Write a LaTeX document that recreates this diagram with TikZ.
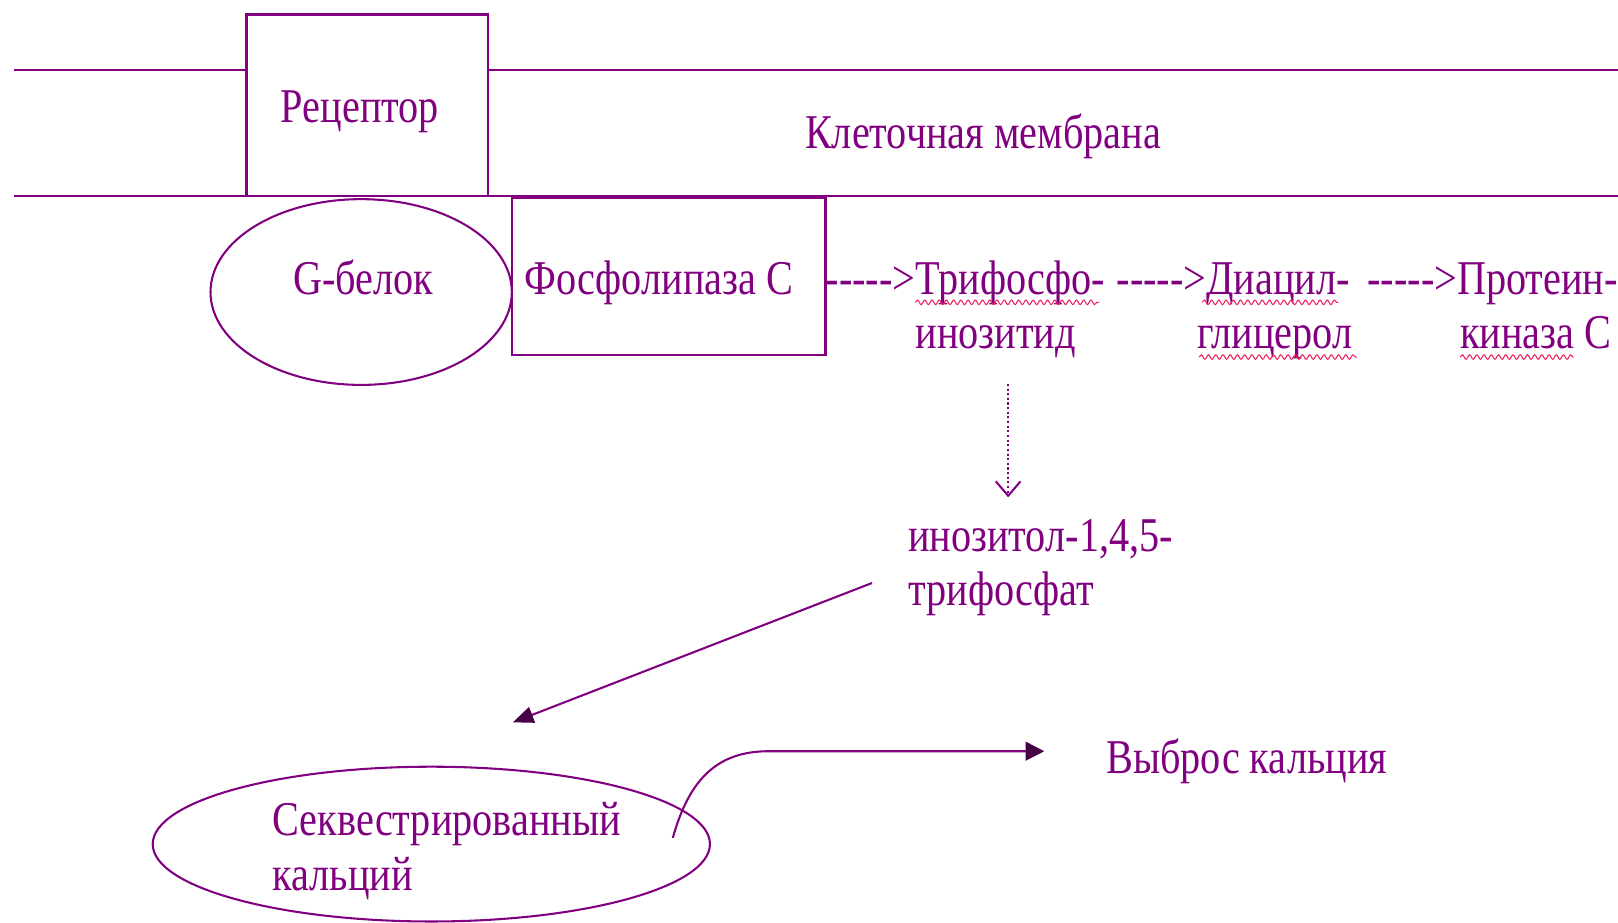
\documentclass[tikz,border=0pt]{standalone}
\usepackage{fontspec}
\newfontfamily\mf{Liberation Serif}[FakeStretch=0.83]
\usetikzlibrary{arrows.meta,shapes.geometric,decorations.pathmorphing}
\definecolor{pur}{RGB}{128,0,128}
\definecolor{darkpur}{RGB}{70,0,70}
\definecolor{spell}{RGB}{240,30,90}
\tikzset{
  lbl/.style={anchor=base west,inner sep=0pt,text=pur,font=\mf\fontsize{47}{52}\selectfont},
  boxshape/.style={draw=pur,line width=2.2pt,rectangle,inner sep=0pt},
  ovalshape/.style={draw=pur,line width=2pt,ellipse,inner sep=0pt},
  memline/.style={draw=pur,line width=2.2pt},
  conn/.style={draw=pur,line width=2pt},
  squig/.style={draw=spell,line width=1pt,decorate,decoration={snake,amplitude=2.2pt,segment length=7pt}}
}
\begin{document}
\begin{tikzpicture}[x=1pt,y=-1pt]
\useasboundingbox (0,0) rectangle (1568,894);
% membrane
\node[boxshape,minimum width=234pt,minimum height=176pt] (rec) at (356,102) {};
\node[lbl] (rectxt) at (272,119) {Рецептор};
\coordinate (mtl) at (14,68);
\coordinate (mtr) at (1568,68);
\coordinate (mbl) at (14,190);
\coordinate (mbr) at (1568,190);
\draw[memline] (mtl) -- (mtl -| rec.west);
\draw[memline] (mtr -| rec.east) -- (mtr);
\draw[memline] (mbl) -- (mbr);
\node[lbl] (mem) at (780,144) {Клеточная мембрана};
% G protein and PLC
\node[ovalshape,minimum width=292pt,minimum height=180pt] (gp) at (350,283) {};
\node[lbl] (gptxt) at (284,285) {G-белок};
\node[boxshape,minimum width=304pt,minimum height=152pt] (plc) at (648,268) {};
\node[lbl] (plctxt) at (508,285) {Фосфолипаза С};
% chain
\node[lbl] (c1) at (800,285) {-\kern0pt-\kern0pt-\kern0pt-\kern0pt->Трифосфо-};
\node[lbl] (c1b) at (887,338) {инозитид};
\node[lbl] (c2) at (1082,285) {-\kern0pt-\kern0pt-\kern0pt-\kern0pt->Диацил-};
\node[lbl] (c2b) at (1160,338) {глицерол};
\node[lbl] (c3) at (1325,285) {-\kern0pt-\kern0pt-\kern0pt-\kern0pt->Протеин-};
\node[lbl] (c3b) at (1415,338) {киназа С};
% spell-check underlines
\draw[squig] (887,293) -- (1065,293);
\draw[squig] (1165,293) -- (1297,293);
\draw[squig] (1162,346) -- (1315,346);
\draw[squig] (1415,346) -- (1525,346);
% IP3
\node[lbl] (ip1) at (880,534) {инозитол-1,4,5-};
\node[lbl] (ip2) at (880,587) {трифосфат};
\coordinate (d1) at (977,372);
\coordinate (d2) at (977,482);
\draw[conn,line width=2.2pt,dash pattern=on 2pt off 2.5pt,-{Straight Barb[length=14pt,width=24pt,line width=2pt]}] (d1) -- (d2);
% calcium
\node[ovalshape,minimum width=540pt,minimum height=150pt] (seq) at (418,818) {};
\node[lbl] (seq1) at (264,810) {Секвестрированный};
\node[lbl] (seq2) at (264,863) {кальций};
\node[lbl] (out) at (1072,750) {Выброс кальция};
\coordinate (a1) at (845,565);
\coordinate (a2) at (497,700);
\draw[conn,-{Triangle[length=20pt,width=16pt,color=darkpur,fill=darkpur]}] (a1) -- (a2);
\coordinate (b1) at (652,812);
\coordinate (b2) at (745,728);
\coordinate (b3) at (1012,728);
\draw[conn,-{Triangle[length=18pt,width=18pt,color=darkpur,fill=darkpur]}] (b1) .. controls (668,755) and (695,728) .. (b2) -- (b3);
\end{tikzpicture}
\end{document}
